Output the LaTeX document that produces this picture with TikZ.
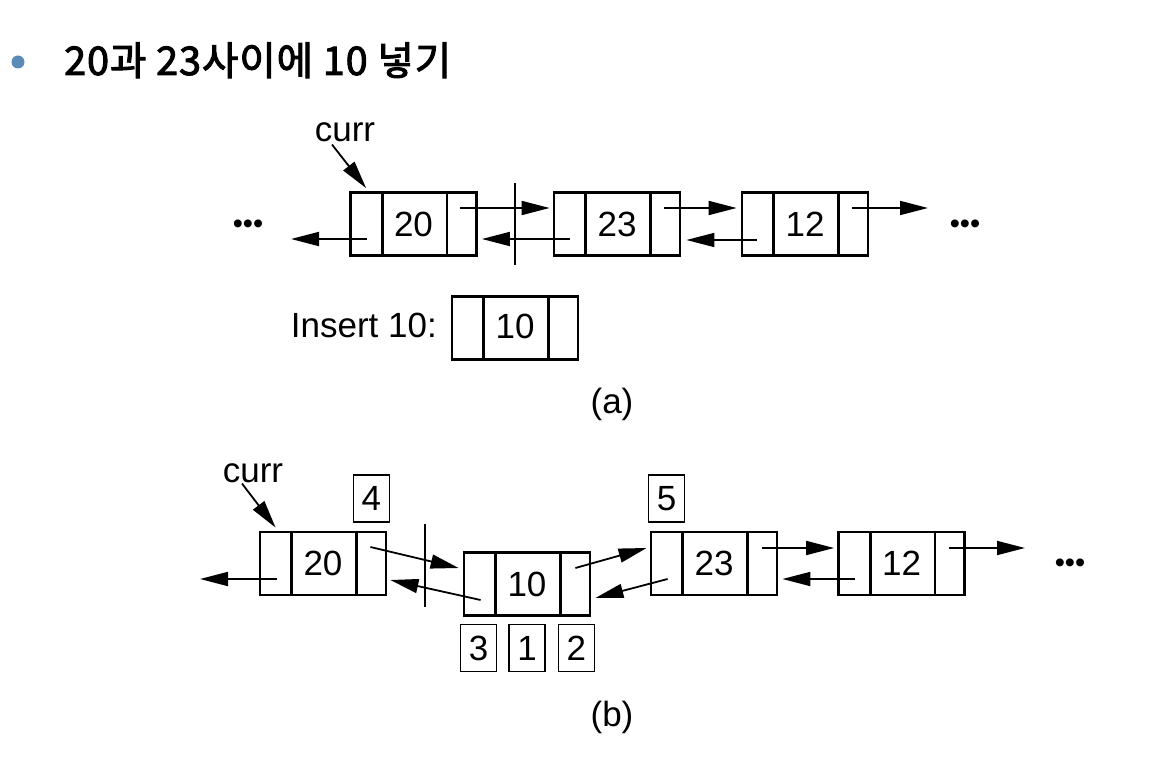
\documentclass[tikz,border=0pt]{standalone}
\usepackage{fontspec}
\setmainfont{Liberation Sans}
\newfontfamily\cjk[FakeBold=2.5,LetterSpace=2.5]{Noto Sans CJK KR}
\usetikzlibrary{arrows.meta,positioning}
\definecolor{listBlue}{HTML}{5A8AB8}

\begin{document}
\begin{tikzpicture}[x=1pt,y=-1pt,font=\fontsize{35}{40}\selectfont,
    lnode/.style={draw,line width=2.8pt,minimum width=126pt,minimum height=63pt,inner sep=0pt},
    tag/.style={draw,line width=1.3pt,minimum width=36pt,minimum height=47pt,inner sep=0pt},
    txt/.style={inner sep=0pt},
    dots/.style={inner sep=0pt,font=\fontsize{29}{32}\selectfont},
    link/.style={-{Triangle[length=28pt,width=14pt]},line width=1.8pt},
    cut/.style={line width=2.4pt}]
  \useasboundingbox (0,0) rectangle (1149,770);
  \node[circle,fill=listBlue,minimum size=13pt,inner sep=0pt] (bul) at (18,62) {};
  \node[txt,anchor=base west,font=\cjk\fontsize{39.5}{46}\selectfont] (title) at (64,75)
    {20과 23사이에 10 넣기};

  % (a)
  \node[lnode] (a20) at (413.5,224) {20};
  \node[lnode] (a23) at (617,224)   {23};
  \node[lnode] (a12) at (805,224)   {12};
  \node[lnode] (ins) at (515,328)   {\raisebox{3pt}{10}};
  \node[txt,anchor=base east] (instxt) at (437,337) {Insert 10:};
  \node[txt,anchor=base] (acurr) at (345,142) {curr};
  \node[dots] (adl) at (248,227) {•••};
  \node[dots] (adr) at (965,227) {•••};
  \node[txt] (capa) at (612,404) {(a)};
  \coordinate (aL) at (291,239);
  \coordinate (aR) at (928,208);

  % (b)
  \node[lnode] (b20) at (323,563.5) {20};
  \node[lnode] (b10) at (527,584)   {10};
  \node[lnode] (b23) at (714,563.5) {23};
  \node[lnode] (b12) at (901.5,563.5) {12};
  \node[txt,anchor=base] (bcurr) at (253,482) {curr};
  \node[dots] (bdr) at (1070,566) {•••};
  \node[txt] (capb) at (612,717) {(b)};
  \coordinate (bL) at (200,579);
  \coordinate (bR) at (1025,548);
  \node[tag,above=8pt of b20.north east,xshift=-16pt] (t4) {4};
  \node[tag,above=8pt of b23.north west,xshift=17pt] (t5) {5};
  \node[tag,below=7pt of b10.south west,xshift=16pt] (t3) {3};
  \node[tag,below=7pt of b10.south] (t1) {1};
  \node[tag,below=7pt of b10.south east,xshift=-15pt] (t2) {2};

  \foreach \n in {a20,a23,a12,ins,b20,b10,b23,b12}
    \draw[line width=2.8pt] ([xshift=33pt]\n.north west) -- ([xshift=33pt]\n.south west)
                            ([xshift=-31pt]\n.north east) -- ([xshift=-31pt]\n.south east);

  \draw[link] ([shift={(-13,2)}]acurr.south) -- ([shift={(17,-3)}]a20.north west);
  \draw[link] ([shift={(-18,-16)}]a20.east) -- ([shift={(-3,-16)}]a23.west);
  \draw[link] ([shift={(17,15)}]a23.west) -- ([shift={(4,15)}]a20.east);
  \draw[link] ([shift={(18,15)}]a20.west) -- (aL);
  \draw[link] ([shift={(-17,-16)}]a23.east) -- ([shift={(-4,-16)}]a12.west);
  \draw[link] ([shift={(16,16)}]a12.west) -- ([shift={(5,16)}]a23.east);
  \draw[link] ([shift={(-17,-16)}]a12.east) -- (aR);
  \draw[cut] (515,183) -- (515,265);

  \draw[link] ([shift={(-11,1)}]bcurr.south) -- ([shift={(17,-3)}]b20.north west);
  \draw[link] ([shift={(18,15.5)}]b20.west) -- (bL);
  \draw[link] ([shift={(-17,-16.5)}]b20.east) -- ([shift={(-4,-16)}]b10.west);
  \draw[link] ([shift={(18,16)}]b10.west) -- ([shift={(3,16.5)}]b20.east);
  \draw[link] ([shift={(-16,-16)}]b10.east) -- ([shift={(-3,-15.5)}]b23.west);
  \draw[link] ([shift={(18,15.5)}]b23.west) -- ([shift={(4,14)}]b10.east);
  \draw[link] ([shift={(-16,-15.5)}]b23.east) -- ([shift={(-3,-15.5)}]b12.west);
  \draw[link] ([shift={(18,15.5)}]b12.west) -- ([shift={(4,15.5)}]b23.east);
  \draw[link] ([shift={(-17,-15.5)}]b12.east) -- (bR);
  \draw[cut] (425,524) -- (425,607);
\end{tikzpicture}
\end{document}
